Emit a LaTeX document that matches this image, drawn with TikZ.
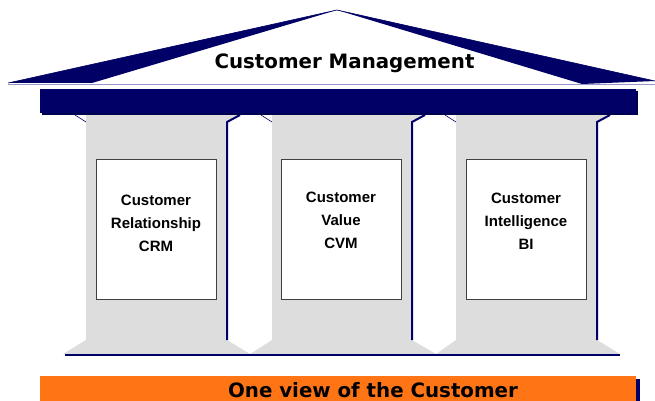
\documentclass[tikz,border=0pt]{standalone}
\usepackage{fontspec}
\setmainfont{Liberation Sans}
\newfontfamily\verd{DejaVu Sans}
\definecolor{navyc}{RGB}{0,0,102}
\definecolor{shadowc}{RGB}{0,0,80}
\definecolor{grayc}{RGB}{221,221,221}
\definecolor{basec}{RGB}{150,150,200}
\definecolor{borderc}{RGB}{64,64,64}
\definecolor{orangec}{RGB}{255,117,22}
\begin{document}
\begin{tikzpicture}[x=1pt,y=-1pt,
  pillarbox/.style={draw=borderc, fill=white, line width=0.8pt, minimum width=120pt, minimum height=140pt, inner sep=0pt},
  pillartext/.style={anchor=north, inner sep=0pt, align=center, font=\bfseries\fontsize{15}{23}\selectfont},
  bigtext/.style={anchor=base, inner sep=0pt, font=\verd\bfseries\fontsize{19.8}{23}\selectfont}]
\useasboundingbox (0,0) rectangle (655,401);
% roof
\fill[white] (8,83) -- (337,10) -- (655,81) -- cycle;
\draw[navyc, line width=0.6pt] (8,83) -- (337,10) -- (655,81);
\fill[navyc] (8,83) -- (337,10) -- (92,83) -- cycle;
\fill[navyc] (337,10) -- (655,81) -- (582,84) -- cycle;
\draw[basec, line width=0.8pt] (8,84) -- (655,84);
% columns
\foreach \xl/\xr/\bl/\br in {86/227/63/250, 272/412/250/436, 456/597/436/620}{
  \fill[grayc] (\xl,115) -- ({\xr+13},115) -- (\xr,122) -- (\xr,340) -- (\br,354) -- (\bl,354) -- (\xl,340) -- cycle;
  \draw[navyc, line width=2pt] ({\xr+13},115) -- (\xr,122) -- (\xr,340);
  \draw[navyc, line width=0.6pt] ({\xl-11},115) -- (\xl,122);
}
\draw[navyc, line width=1.8pt] (65,355) -- (620,355);
% entablature
\fill[shadowc] (42,91) rectangle (638,115);
\fill[navyc] (40,89) rectangle (636,113);
% boxes
\node[pillarbox] (crm) at (156,229) {};
\node[pillarbox] (cvm) at (341,229) {};
\node[pillarbox] (bi) at (526,229) {};
\node[pillartext] (crmt) at (156,195) {Customer\\Relationship\\CRM};
\node[pillartext] (cvmt) at (341,192) {Customer\\Value\\CVM};
\node[pillartext] (bit) at (526,193) {Customer\\Intelligence\\BI};
% title
\node[bigtext] (title) at (344.5,69) {Customer Management};
% base bar
\fill[navyc] (44,379) rectangle (640,401);
\fill[orangec] (40,376) rectangle (636,401);
\node[bigtext] (view) at (373,397) {One view of the Customer};
\end{tikzpicture}
\end{document}
